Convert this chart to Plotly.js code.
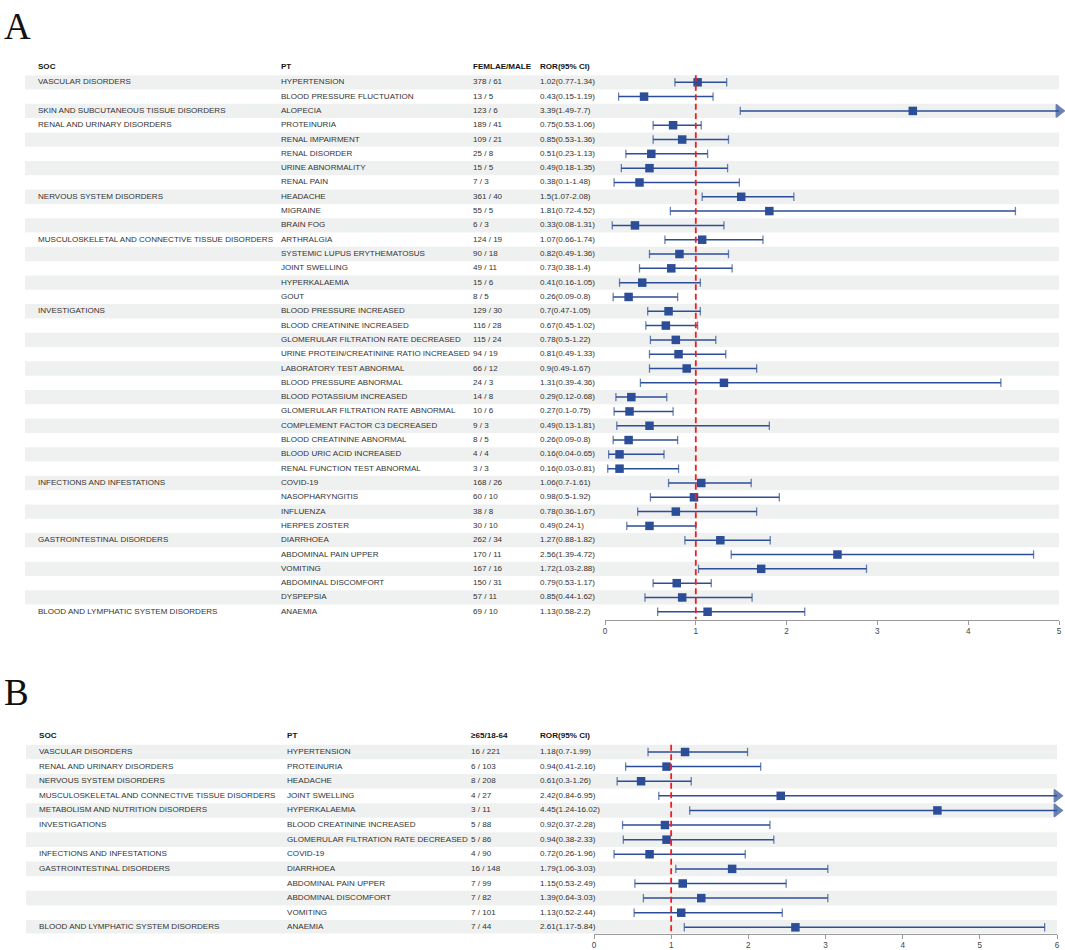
<!DOCTYPE html>
<html>
<head>
<meta charset="utf-8">
<script src="https://cdn.plot.ly/plotly-3.0.1.min.js"></script>
<style>html,body{margin:0;padding:0;background:#fff;}#chart{width:1065px;height:950px;}</style>
</head>
<body>
<div id="chart"></div>
<script>
// ---------- Panel A data (female / male) ----------
const socA = ["VASCULAR DISORDERS","","SKIN AND SUBCUTANEOUS TISSUE DISORDERS","RENAL AND URINARY DISORDERS","","","","",
  "NERVOUS SYSTEM DISORDERS","","","MUSCULOSKELETAL AND CONNECTIVE TISSUE DISORDERS","","","","",
  "INVESTIGATIONS","","","","","","","","","","","",
  "INFECTIONS AND INFESTATIONS","","","","GASTROINTESTINAL DISORDERS","","","","","BLOOD AND LYMPHATIC SYSTEM DISORDERS"];
const ptA = ["HYPERTENSION","BLOOD PRESSURE FLUCTUATION","ALOPECIA","PROTEINURIA","RENAL IMPAIRMENT","RENAL DISORDER","URINE ABNORMALITY","RENAL PAIN",
  "HEADACHE","MIGRAINE","BRAIN FOG","ARTHRALGIA","SYSTEMIC LUPUS ERYTHEMATOSUS","JOINT SWELLING","HYPERKALAEMIA","GOUT",
  "BLOOD PRESSURE INCREASED","BLOOD CREATININE INCREASED","GLOMERULAR FILTRATION RATE DECREASED","URINE PROTEIN/CREATININE RATIO INCREASED",
  "LABORATORY TEST ABNORMAL","BLOOD PRESSURE ABNORMAL","BLOOD POTASSIUM INCREASED","GLOMERULAR FILTRATION RATE ABNORMAL",
  "COMPLEMENT FACTOR C3 DECREASED","BLOOD CREATININE ABNORMAL","BLOOD URIC ACID INCREASED","RENAL FUNCTION TEST ABNORMAL",
  "COVID-19","NASOPHARYNGITIS","INFLUENZA","HERPES ZOSTER","DIARRHOEA","ABDOMINAL PAIN UPPER","VOMITING","ABDOMINAL DISCOMFORT","DYSPEPSIA","ANAEMIA"];
const femaleA = [378,13,123,189,109,25,15,7,361,55,6,124,90,49,15,8,129,116,115,94,66,24,14,10,9,8,4,3,168,60,38,30,262,170,167,150,57,69];
const maleA   = [61,5,6,41,21,8,5,3,40,5,3,19,18,11,6,5,30,28,24,19,12,3,8,6,3,5,4,3,26,10,8,10,34,11,16,31,11,10];
const rorA = [1.02,0.43,3.39,0.75,0.85,0.51,0.49,0.38,1.5,1.81,0.33,1.07,0.82,0.73,0.41,0.26,0.7,0.67,0.78,0.81,0.9,1.31,0.29,0.27,0.49,0.26,0.16,0.16,1.06,0.98,0.78,0.49,1.27,2.56,1.72,0.79,0.85,1.13];
const lowA = [0.77,0.15,1.49,0.53,0.53,0.23,0.18,0.1,1.07,0.72,0.08,0.66,0.49,0.38,0.16,0.09,0.47,0.45,0.5,0.49,0.49,0.39,0.12,0.1,0.13,0.09,0.04,0.03,0.7,0.5,0.36,0.24,0.88,1.39,1.03,0.53,0.44,0.58];
const highA = [1.34,1.19,7.7,1.06,1.36,1.13,1.35,1.48,2.08,4.52,1.31,1.74,1.36,1.4,1.05,0.8,1.05,1.02,1.22,1.33,1.67,4.36,0.68,0.75,1.81,0.8,0.65,0.81,1.61,1.92,1.67,1,1.82,4.72,2.88,1.17,1.62,2.2];
const headersA = ["SOC","PT","FEMLAE/MALE","ROR(95% CI)"];
const xTicksA = [0,1,2,3,4,5];

// ---------- Panel B data (>=65 / 18-64) ----------
const socB = ["VASCULAR DISORDERS","RENAL AND URINARY DISORDERS","NERVOUS SYSTEM DISORDERS","MUSCULOSKELETAL AND CONNECTIVE TISSUE DISORDERS",
  "METABOLISM AND NUTRITION DISORDERS","INVESTIGATIONS","","INFECTIONS AND INFESTATIONS","GASTROINTESTINAL DISORDERS","","","","BLOOD AND LYMPHATIC SYSTEM DISORDERS"];
const ptB = ["HYPERTENSION","PROTEINURIA","HEADACHE","JOINT SWELLING","HYPERKALAEMIA","BLOOD CREATININE INCREASED","GLOMERULAR FILTRATION RATE DECREASED",
  "COVID-19","DIARRHOEA","ABDOMINAL PAIN UPPER","ABDOMINAL DISCOMFORT","VOMITING","ANAEMIA"];
const elderB = [16,6,8,4,3,5,5,4,16,7,7,7,7];
const adultB = [221,103,208,27,11,88,86,90,148,99,82,101,44];
const rorB = [1.18,0.94,0.61,2.42,4.45,0.92,0.94,0.72,1.79,1.15,1.39,1.13,2.61];
const lowB = [0.7,0.41,0.3,0.84,1.24,0.37,0.38,0.26,1.06,0.53,0.64,0.52,1.17];
const highB = [1.99,2.16,1.26,6.95,16.02,2.28,2.33,1.96,3.03,2.49,3.03,2.44,5.84];
const headersB = ["SOC","PT","\u226565/18-64","ROR(95% CI)"];
const xTicksB = [0,1,2,3,4,5,6];

// ---------- styling ----------
const W = 1065, H = 950;
const BLUE = "#2c4d97";
const TXT = "#333333";
const FONT = "Liberation Sans, Arial, sans-serif";

function buildPanel(o) {
  const n = o.pt.length;
  const traces = [], shapes = [];
  const xmax = o.xTicks[o.xTicks.length - 1];
  // alternating row stripes (on the text subplot, drawn beneath everything)
  for (let i = 0; i < n; i += 2) {
    shapes.push({type: "rect", xref: o.xt, yref: o.ya, x0: o.stripeX0, x1: o.stripeX1, y0: i - 0.5, y1: i + 0.5,
      fillcolor: "#eff1f0", line: {width: 0}, layer: "below"});
  }
  // reference line at ROR = 1
  shapes.push({type: "line", xref: o.xf, yref: o.ya, x0: 1, x1: 1, y0: -0.5, y1: o.yBottom,
    line: {color: "#f21d1d", width: 1.8, dash: "6px,3.5px"}, layer: "above"});
  // table text columns
  const idx = o.pt.map((_, i) => i);
  const cols = [
    o.soc,
    o.pt,
    o.a.map((v, i) => v + " / " + o.b[i]),
    o.ror.map((v, i) => v + "(" + o.lo[i] + "-" + o.hi[i] + ")")
  ];
  cols.forEach((c, k) => {
    traces.push({type: "scatter", mode: "text", xaxis: o.xt, yaxis: o.ya,
      x: c.map(() => o.colX[k]), y: idx, text: c, textposition: "middle right",
      textfont: {family: FONT, size: o.fs, color: TXT}, cliponaxis: false, hoverinfo: "skip", showlegend: false});
    traces.push({type: "scatter", mode: "text", xaxis: o.xt, yaxis: o.ya,
      x: [o.colX[k]], y: [-1.1], text: ["<b>" + o.headers[k] + "</b>"], textposition: "middle right",
      textfont: {family: FONT, size: o.fs, color: "#151515"}, cliponaxis: false, hoverinfo: "skip", showlegend: false});
  });
  // CI lines with end caps, arrowhead when the CI runs past the axis
  const lx = [], ly = [], sym = [], sz = [];
  o.ror.forEach((v, i) => {
    const clipped = o.hi[i] > xmax;
    lx.push(o.lo[i], clipped ? xmax : o.hi[i], null);
    ly.push(i, i, null);
    sym.push("line-ns", clipped ? "triangle-right" : "line-ns", "line-ns");
    sz.push(6, clipped ? 11 : 6, 0);
  });
  traces.push({type: "scatter", mode: "lines+markers", xaxis: o.xf, yaxis: o.ya, x: lx, y: ly,
    line: {color: BLUE, width: 1.5}, connectgaps: false,
    marker: {symbol: sym, size: sz, color: BLUE, line: {color: BLUE, width: 1.3}},
    cliponaxis: false, hoverinfo: "skip", showlegend: false});
  // point estimates
  traces.push({type: "scatter", mode: "markers", xaxis: o.xf, yaxis: o.ya, x: o.ror, y: idx,
    marker: {symbol: "square", size: 8.5, color: BLUE}, cliponaxis: false, showlegend: false});
  return {traces, shapes};
}

const px = v => v / W;
const py = v => 1 - v / H;

// Panel A geometry (pixels): first row centre, row step, axis line
const rowA0 = 82.3, stepA = 14.31, axisA = 619.5;
const yTopA = -1.6, yBotA = (axisA - rowA0) / stepA;
// Panel B geometry
const rowB0 = 752, stepB = 14.61, axisB = 933.5;
const yTopB = -1.6, yBotB = (axisB - rowB0) / stepB;

const pA = buildPanel({soc: socA, pt: ptA, a: femaleA, b: maleA, ror: rorA, lo: lowA, hi: highA, headers: headersA,
  xTicks: xTicksA, xf: "x3", xt: "x", ya: "y", fs: 8.05,
  colX: [38, 281, 473, 540], stripeX0: 25, stripeX1: 1059, yBottom: yBotA});
const pB = buildPanel({soc: socB, pt: ptB, a: elderB, b: adultB, ror: rorB, lo: lowB, hi: highB, headers: headersB,
  xTicks: xTicksB, xf: "x4", xt: "x2", ya: "y2", fs: 8.1,
  colX: [39, 287, 471, 540], stripeX0: 26, stripeX1: 1057, yBottom: yBotB});

const forestAxis = (dom, ticks, anchor) => ({
  domain: dom, range: [ticks[0], ticks[ticks.length - 1]], anchor: anchor,
  tickvals: ticks, ticks: "outside", ticklen: 4, tickcolor: "#9a9a9a", tickwidth: 1,
  showline: true, linecolor: "#9a9a9a", linewidth: 1, showgrid: false, zeroline: false,
  tickfont: {family: FONT, size: 8.2, color: "#444"}, fixedrange: true
});
const textAxis = anchor => ({domain: [0, 1], range: [0, W], anchor: anchor, visible: false, fixedrange: true});

const layout = {
  width: W, height: H, margin: {l: 0, r: 0, t: 0, b: 0},
  paper_bgcolor: "#fff", plot_bgcolor: "rgba(0,0,0,0)", showlegend: false,
  xaxis: textAxis("y"),
  xaxis2: textAxis("y2"),
  xaxis3: forestAxis([px(605), px(1059)], xTicksA, "y"),
  xaxis4: forestAxis([px(594), px(1057)], xTicksB, "y2"),
  yaxis: {domain: [py(axisA), py(rowA0 + yTopA * stepA)], range: [yBotA, yTopA], visible: false, fixedrange: true},
  yaxis2: {domain: [py(axisB), py(rowB0 + yTopB * stepB)], range: [yBotB, yTopB], visible: false, fixedrange: true},
  shapes: pA.shapes.concat(pB.shapes),
  annotations: [
    {text: "A", xref: "paper", yref: "paper", x: px(2), y: py(4), xanchor: "left", yanchor: "top", showarrow: false,
      font: {family: "Liberation Serif, Times New Roman, serif", size: 37, color: "#111"}},
    {text: "B", xref: "paper", yref: "paper", x: px(2), y: py(670), xanchor: "left", yanchor: "top", showarrow: false,
      font: {family: "Liberation Serif, Times New Roman, serif", size: 37, color: "#111"}}
  ]
};

Plotly.newPlot("chart", pA.traces.concat(pB.traces), layout, {staticPlot: true, displayModeBar: false});
</script>
</body>
</html>
